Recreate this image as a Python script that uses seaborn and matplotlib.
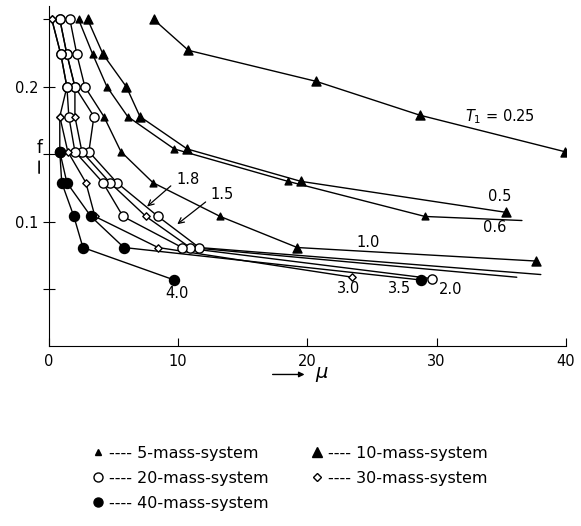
import pandas as pd
import matplotlib.pyplot as plt
import seaborn as sns
from matplotlib.lines import Line2D

# curves of constant T1: mu, f and the mass system of each point (0 = no marker)
t025_mu = [8.1, 10.8, 20.7, 28.7, 39.9]
t025_f = [0.25, 0.227, 0.204, 0.179, 0.152]
t025_sys = [10, 10, 10, 10, 10]

t05_mu = [3.0, 4.2, 6.0, 7.05, 10.7, 19.5, 35.4]
t05_f = [0.25, 0.224, 0.200, 0.178, 0.154, 0.130, 0.107]
t05_sys = [10, 10, 10, 10, 10, 10, 10]

t06_mu = [2.3, 3.4, 4.5, 6.1, 9.7, 18.5, 29.1, 36.6]
t06_f = [0.25, 0.224, 0.200, 0.178, 0.154, 0.130, 0.104, 0.101]
t06_sys = [5, 5, 5, 5, 5, 5, 5, 0]

t10_mu = [1.63, 2.17, 2.79, 4.26, 5.58, 8.06, 13.26, 19.22, 37.67]
t10_f = [0.25, 0.224, 0.200, 0.178, 0.152, 0.129, 0.104, 0.081, 0.071]
t10_sys = [20, 20, 20, 5, 5, 5, 5, 10, 10]

t15_mu = [0.85, 1.40, 2.02, 3.49, 3.10, 5.27, 8.45, 11.63, 38.06]
t15_f = [0.25, 0.224, 0.200, 0.178, 0.152, 0.129, 0.104, 0.081, 0.061]
t15_sys = [20, 20, 20, 20, 20, 20, 20, 20, 0]

t18_mu = [0.85, 1.40, 2.02, 2.02, 2.56, 4.73, 7.52, 10.93, 36.2]
t18_f = [0.25, 0.224, 0.200, 0.178, 0.152, 0.129, 0.104, 0.081, 0.059]
t18_sys = [20, 20, 20, 30, 20, 20, 30, 20, 0]

t20_mu = [0.23, 0.93, 1.40, 1.55, 2.02, 4.19, 5.74, 10.31, 29.61]
t20_f = [0.25, 0.224, 0.200, 0.178, 0.152, 0.129, 0.104, 0.081, 0.058]
t20_sys = [30, 20, 20, 20, 20, 20, 20, 20, 20]

t30_mu = [0.23, 0.93, 1.40, 0.85, 1.47, 2.87, 3.57, 8.45, 23.49]
t30_f = [0.25, 0.224, 0.200, 0.178, 0.152, 0.129, 0.104, 0.081, 0.059]
t30_sys = [30, 20, 20, 30, 30, 30, 30, 30, 30]

t35_mu = [0.85, 0.85, 1.40, 3.26, 5.81, 28.76]
t35_f = [0.178, 0.152, 0.129, 0.104, 0.081, 0.057]
t35_sys = [30, 40, 40, 40, 40, 40]

t40_mu = [0.85, 1.0, 1.94, 2.64, 9.69]
t40_f = [0.152, 0.129, 0.104, 0.081, 0.057]
t40_sys = [40, 40, 40, 40, 40]

curves = [
    (t025_mu, t025_f, t025_sys), (t05_mu, t05_f, t05_sys), (t06_mu, t06_f, t06_sys),
    (t10_mu, t10_f, t10_sys), (t15_mu, t15_f, t15_sys), (t18_mu, t18_f, t18_sys),
    (t20_mu, t20_f, t20_sys), (t30_mu, t30_f, t30_sys), (t35_mu, t35_f, t35_sys),
    (t40_mu, t40_f, t40_sys),
]

# curve labels: text, mu, f
labels = [
    ("$T_1$ = 0.25", 32.2, 0.178), ("0.5", 34.0, 0.119), ("0.6", 33.6, 0.096),
    ("1.0", 23.8, 0.085), ("1.8", 9.85, 0.131), ("1.5", 12.5, 0.120),
    ("4.0", 9.0, 0.047), ("3.0", 22.3, 0.051), ("3.5", 26.2, 0.051), ("2.0", 30.2, 0.050),
]

systems = [5, 10, 20, 30, 40]
sys_names = ["5-mass-system", "10-mass-system", "20-mass-system",
             "30-mass-system", "40-mass-system"]
marker_style = {
    5: dict(marker="^", s=24, color="black"),
    10: dict(marker="^", s=42, color="black"),
    20: dict(marker="o", s=44, color="white"),
    30: dict(marker="D", s=14, color="white"),
    40: dict(marker="o", s=52, color="black"),
}

rows = []
for mu, f, sy in curves:
    for m, v, s in zip(mu, f, sy):
        rows.append({"mu": m, "f": v, "system": s})
points = pd.DataFrame(rows)

sns.set_style("ticks")
plt.rcParams["font.family"] = ["DejaVu Sans"]
plt.rcParams.update({"text.color": "black", "xtick.color": "black",
                     "ytick.color": "black", "axes.edgecolor": "black"})

fig = plt.figure(figsize=(5.81, 5.26), dpi=100)
ax = fig.add_axes([0.084, 0.342, 0.890, 0.647])

for mu, f, sy in curves:
    sns.lineplot(x=mu, y=f, sort=False, estimator=None, color="black",
                 lw=1.0, ax=ax)

for s in systems:
    sub = points[points["system"] == s]
    st = marker_style[s]
    sns.scatterplot(data=sub, x="mu", y="f", marker=st["marker"], s=st["s"],
                    color=st["color"], edgecolor="black", linewidth=1.0,
                    ax=ax, zorder=3)

for txt, m, v in labels:
    ax.text(m, v, txt, fontsize=10.5, ha="left", va="center")

# arrows pointing at the 1.8 and 1.5 curves
ax.annotate("", xy=(7.44, 0.110), xytext=(9.6, 0.128),
            arrowprops=dict(arrowstyle="->", lw=0.9, color="black"))
ax.annotate("", xy=(9.77, 0.097), xytext=(12.3, 0.116),
            arrowprops=dict(arrowstyle="->", lw=0.9, color="black"))

ax.set_xlim(0, 40)
ax.set_ylim(0.008, 0.26)
ax.set_xticks([0, 10, 20, 30, 40])
ax.set_yticks([0.05, 0.1, 0.15, 0.2, 0.25])
ax.set_yticklabels(["", "0.1", "", "0.2", ""])
ax.tick_params(axis="x", direction="in", length=6, labelsize=10.5, pad=6)
ax.tick_params(axis="y", direction="inout", length=8, labelsize=10.5)
ax.set_xlabel("")
ax.set_ylabel("")
sns.despine(ax=ax)

# axis names with little arrows
ax.text(-0.75, 0.155, "f", fontsize=12, ha="center", va="center", clip_on=False)
ax.annotate("", xy=(-0.75, 0.147), xytext=(-0.75, 0.134), annotation_clip=False,
            arrowprops=dict(arrowstyle="-", lw=1.2, color="black"))
ax.annotate("", xy=(20.0, -0.013), xytext=(17.1, -0.013), annotation_clip=False,
            arrowprops=dict(arrowstyle="-|>", lw=1.0, color="black", mutation_scale=8))
ax.text(20.6, -0.013, r"$\mu$", fontsize=14, ha="left", va="center")

handles = []
for s, name in zip(systems, sys_names):
    st = marker_style[s]
    ms = {5: 5, 10: 7, 20: 6.5, 30: 4, 40: 6.5}[s]
    handles.append(Line2D([], [], linestyle="none", marker=st["marker"],
                          markersize=ms, markerfacecolor=st["color"],
                          markeredgecolor="black", label="---- " + name))
order = [0, 2, 4, 1, 3]
fig.legend(handles=[handles[i] for i in order], loc="upper left",
           bbox_to_anchor=(0.133, 0.180), ncol=2, frameon=False,
           fontsize=11.5, handlelength=0.8, handletextpad=0.3,
           columnspacing=2.6, labelspacing=0.62)

fig.savefig("out.png", dpi=100)
